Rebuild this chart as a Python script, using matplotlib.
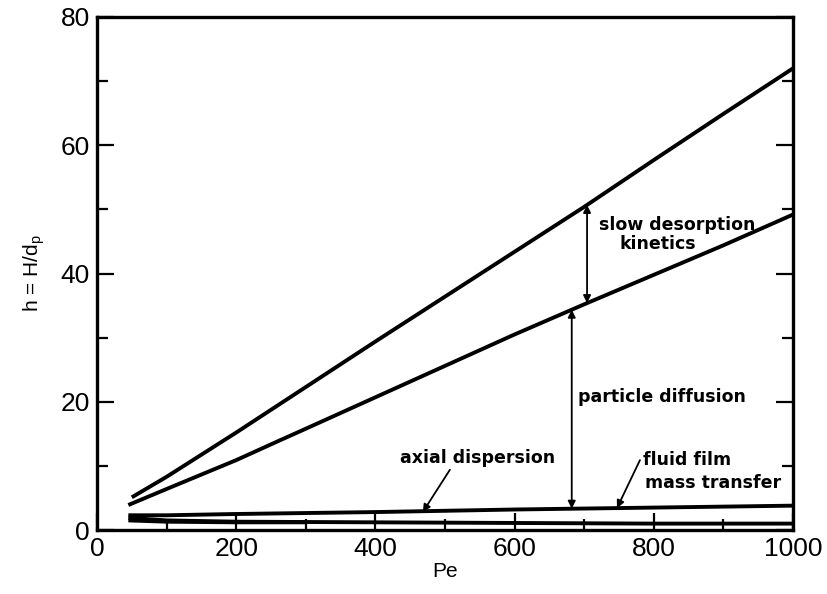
import numpy as np
import matplotlib
matplotlib.use('Agg')
from matplotlib import pyplot as plt
from matplotlib.ticker import MultipleLocator

pe_top = [50, 100, 200, 300, 400, 500, 600, 700, 800, 900, 1000]
h_top = [5.1, 8.3, 15.2, 22.3, 29.4, 36.4, 43.4, 50.4, 57.7, 64.9, 72.0]

pe_mid = [45, 100, 200, 263, 300, 400, 500, 600, 700, 800, 900, 1000]
h_mid = [3.9, 6.4, 10.9, 14.0, 15.8, 20.7, 25.6, 30.5, 35.2, 39.8, 44.4, 49.2]

pe_film = [45, 100, 200, 400, 600, 800, 1000]
h_film = [2.3, 2.3, 2.5, 2.8, 3.2, 3.5, 3.8]

pe_axial = [45, 100, 200, 400, 600, 800, 1000]
h_axial = [1.9, 1.5, 1.3, 1.2, 1.1, 1.0, 1.0]

pe_low = [45, 100, 200, 300]
h_low = [1.5, 1.3, 1.2, 1.2]

fig = plt.figure(figsize=(8.27, 5.94), dpi=100)
ax = fig.add_axes([0.1173, 0.1077, 0.959 - 0.1173, 0.9714 - 0.1077])

for pe, h in [(pe_top, h_top), (pe_mid, h_mid), (pe_film, h_film),
              (pe_axial, h_axial), (pe_low, h_low)]:
    ax.plot(pe, h, c='black', lw=2.8, solid_capstyle='butt')

ax.set_xlim(0, 1000)
ax.set_ylim(0, 80)
ax.xaxis.set_major_locator(MultipleLocator(200))
ax.xaxis.set_minor_locator(MultipleLocator(100))
ax.yaxis.set_major_locator(MultipleLocator(20))
ax.yaxis.set_minor_locator(MultipleLocator(10))
ax.tick_params(which='both', direction='in', right=True, width=1.6, labelsize=19, pad=5)
ax.tick_params(which='major', length=12)
ax.tick_params(which='minor', length=8)
for sp in ax.spines.values():
    sp.set_linewidth(2.4)
for lab in ax.get_xticklabels() + ax.get_yticklabels():
    lab.set_family('Liberation Sans')

ax.set_xlabel('Pe', fontsize=15, family='Liberation Sans', labelpad=1)
ax.set_ylabel(r'h = H/d$_\mathregular{p}$', fontsize=15, family='Liberation Sans', labelpad=10)

tfont = dict(fontsize=12.5, family='DejaVu Sans', weight='bold')
arrow = dict(arrowstyle='-|>', color='black', lw=1.3, mutation_scale=11, shrinkA=0, shrinkB=0)
darrow = dict(arrowstyle='<|-|>', color='black', lw=1.3, mutation_scale=11, shrinkA=0, shrinkB=0)

# slow desorption kinetics
x = 704
ax.annotate('', xy=(x, np.interp(x, pe_top, h_top)), xytext=(x, np.interp(x, pe_mid, h_mid)),
            arrowprops=darrow)
ax.text(833, 47.6, 'slow desorption', ha='center', va='center', **tfont)
ax.text(806, 44.6, 'kinetics', ha='center', va='center', **tfont)

# particle diffusion
x = 682
ax.annotate('', xy=(x, np.interp(x, pe_mid, h_mid)), xytext=(x, np.interp(x, pe_film, h_film)),
            arrowprops=darrow)
ax.text(812, 20.7, 'particle diffusion', ha='center', va='center', **tfont)

# axial dispersion
ax.annotate('', xy=(468, 2.8), xytext=(507, 9.4), arrowprops=arrow)
ax.text(547, 11.2, 'axial dispersion', ha='center', va='center', **tfont)

# fluid film mass transfer
ax.annotate('', xy=(747, np.interp(747, pe_film, h_film)), xytext=(780, 10.9), arrowprops=arrow)
ax.text(784, 10.9, 'fluid film', ha='left', va='center', **tfont)
ax.text(787, 7.3, 'mass transfer', ha='left', va='center', **tfont)

fig.savefig('out.png', dpi=100)
